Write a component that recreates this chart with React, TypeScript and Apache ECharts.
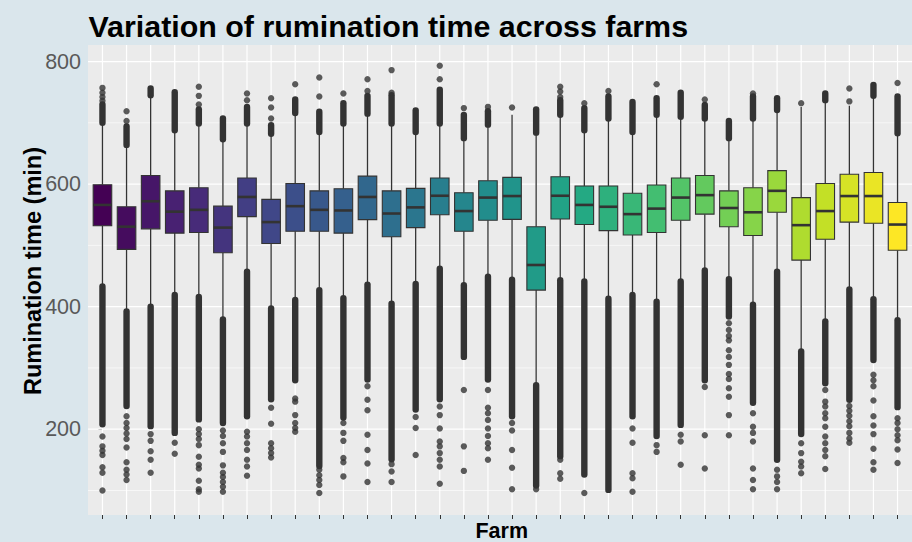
import React, { useEffect, useRef } from "react";
import * as echarts from "echarts";

// ---- data ----
const farms = ["1","2","3","4","5","6","7","8","9","10","11","12","13","14","15","16","17","18","19","20","21","22","23","24","25","26","27","28","29","30","31","32","33","34"];

const whiskerLow = [436, 394, 402, 421, 418, 381, 459, 399, 413, 429, 416, 438, 407, 440, 464, 437, 451, 446, 274, 445, 443, 415, 421, 410, 443, 461, 447, 405, 459, 329, 378, 430, 414, 380];
const q1 = [532, 493.5, 527, 520, 521, 488, 547, 503, 523, 523, 520, 542, 514, 529, 550, 523, 541, 542.5, 427, 543, 534, 524, 517, 521, 541, 551, 530.5, 516, 554, 476, 510, 538, 536, 492];
const median = [566, 530.5, 572, 555, 558, 529, 579, 538, 564, 558, 557, 579, 552, 562, 581, 556, 578, 580.5, 468, 581, 566, 563, 551, 560, 578, 582, 561, 554, 589, 533, 556, 580.5, 580.5, 534];
const q3 = [599, 563, 614, 589, 594, 564, 610, 575, 601, 589, 592.5, 613, 589, 593, 610, 586, 605.5, 611, 530.5, 612, 597, 597, 585, 598.5, 610, 614, 589, 594, 622, 578, 601, 616, 619, 570];
const whiskerHigh = [697, 662, 742, 686, 697, 671, 697, 680, 714, 683, 697, 713, 697, 683, 697, 673, 695, 713, 682, 711, 686, 705, 683, 711, 708, 705, 673, 705, 719, 726, 735, 728, 742, 681];

// dense runs of overlapping outliers: [from, to] (null = none)
const upperDense: ([number, number] | null)[] = [
  [700, 730], [664, 694], [745, 756], [688, 750], [699, 722], [673, 707], [699, 726], [682, 696], [716, 738], [685, 718],
  [699, 732], [715, 744], [699, 745], [685, 720], [699, 754], [675, 713], [697, 719], null, [684, 722], [713, 737],
  [688, 724], [707, 743], [685, 734], [713, 740], [710, 749], [707, 729], [675, 703], [707, 743], [721, 740], null,
  [737, 748], null, [744, 762], [683, 743]
];
const lowerDense: ([number, number] | null)[] = [
  [208, 433], [238, 392], [205, 400], [194, 419], [216, 416], [210, 379], [221, 457], [249, 397], [280, 411], [140, 427],
  [219, 414], [281, 436], [151, 405], [232, 437], [249, 462], [318, 435], [281, 449], [221, 444], [108, 272], [156, 443],
  [126, 441], [101, 413], [221, 419], [189, 408], [207, 441], [280, 459], [384, 445], [243, 403], [150, 457], [192, 327],
  [275, 376], [248, 428], [313, 412], [236, 378]
];

// isolated outliers
const upperOutliers: number[][] = [
  [757, 749, 742, 736], [719, 703], [], [], [759, 744, 730], [], [748, 737], [740, 725, 707], [763], [774, 743],
  [748], [771, 752], [786, 749], [], [793, 771], [724], [726], [725], [], [759, 751, 742],
  [732], [752], [], [763], [], [738], [], [748], [], [732],
  [], [756, 735], [], [765]
];
const lowerOutliers: number[][] = [
  [188, 172, 165, 158, 138, 129, 100],
  [221, 210, 202, 193, 184, 170, 146, 134, 126, 117],
  [192, 181, 164, 150, 129],
  [178, 160],
  [200, 192, 184, 174, 155, 142, 136, 116, 102, 98],
  [198, 189, 177, 163, 141, 129, 122, 114, 106, 98],
  [196, 188, 177, 166, 150, 139, 124],
  [235, 209, 177, 169, 161, 154],
  [250, 245, 223, 210, 202, 196],
  [134, 125, 117, 109, 96],
  [210, 194, 181, 153, 146, 123],
  [270, 248, 231, 191, 166, 144, 114],
  [143, 131, 114],
  [220, 202, 158],
  [237, 223, 201, 180, 172, 161, 150, 139, 111],
  [264, 172, 132],
  [264, 235, 226, 215, 201, 189, 177, 169, 150],
  [210, 198, 166, 137, 102],
  [102],
  [150, 128, 119],
  [96],
  [],
  [201, 178, 128, 120, 98],
  [174, 163],
  [191, 180, 142],
  [269, 190, 136],
  [373, 362, 352, 345, 329, 318, 305, 290, 282, 267, 253, 223, 190],
  [226, 204, 194, 180, 136, 117, 102],
  [134, 123, 114, 102],
  [177, 161, 147, 139, 128],
  [264, 245, 237, 226, 218, 204, 188, 177, 166, 156, 135],
  [238, 230, 222, 213, 205, 194, 185, 178],
  [289, 280, 270, 247, 221, 206, 192, 168, 146, 134],
  [218, 210, 200, 190, 182, 167, 145]
];

const yTicks = [200, 400, 600, 800];
const yMinor = [100, 300, 500, 700];
const Y_MIN = 60;
const Y_MAX = 827;
const X_MIN = -0.6;
const X_MAX = farms.length - 1 + 0.6;

// ---- styles ----
const FONT = '"Liberation Sans", Arial, Helvetica, sans-serif';
const VIRIDIS = ["#440154", "#482475", "#414487", "#355f8d", "#2a788e", "#21918c", "#22a884", "#44bf70", "#7ad151", "#bddf26", "#fde725"];
function hexToRgb(h: string) {
  const n = parseInt(h.slice(1), 16);
  return [(n >> 16) & 255, (n >> 8) & 255, n & 255];
}
function viridis(t: number) {
  const s = t * (VIRIDIS.length - 1);
  const i = Math.min(Math.floor(s), VIRIDIS.length - 2);
  const f = s - i;
  const a = hexToRgb(VIRIDIS[i]);
  const b = hexToRgb(VIRIDIS[i + 1]);
  const c = a.map((v, k) => Math.round(v + (b[k] - v) * f));
  return `rgb(${c[0]},${c[1]},${c[2]})`;
}
const palette = farms.map((_, i) => viridis(i / (farms.length - 1)));
const INK = "#333333";

export default function App() {
  const ref = useRef<HTMLDivElement>(null);
  useEffect(() => {
    document.body.style.margin = "0";
    if (!ref.current) return;
    const chart = echarts.init(ref.current, undefined, { renderer: "svg" });

    const idx = farms.map((_, i) => i);
    const boxData = idx.map((i) => [i, whiskerLow[i], q1[i], median[i], q3[i], whiskerHigh[i]]);
    const denseData: number[][] = [];
    idx.forEach((i) => {
      const u = upperDense[i];
      const l = lowerDense[i];
      if (u) denseData.push([i, u[0], u[1]]);
      if (l) denseData.push([i, l[0], l[1]]);
    });
    const pointData: number[][] = [];
    idx.forEach((i) => {
      upperOutliers[i].forEach((v) => pointData.push([i, v]));
      lowerOutliers[i].forEach((v) => pointData.push([i, v]));
    });

    const option: any = {
      animation: false,
      backgroundColor: "#DAE6EC",
      textStyle: { fontFamily: FONT },
      grid: { left: 88, top: 45, width: 827, height: 470, show: true, backgroundColor: "#EBEBEB", borderWidth: 0 },
      xAxis: {
        type: "value",
        min: X_MIN,
        max: X_MAX,
        axisLine: { show: false },
        axisLabel: { show: false },
        splitLine: { show: false },
        axisTick: { show: true, customValues: idx, length: 4, lineStyle: { color: INK, width: 1 } },
      },
      yAxis: {
        type: "value",
        min: Y_MIN,
        max: Y_MAX,
        axisLine: { show: false },
        splitLine: { show: false },
        axisTick: { show: true, customValues: yTicks, length: 4, lineStyle: { color: INK, width: 1 } },
        axisLabel: { customValues: yTicks, margin: 7, fontSize: 21.5, color: "#595959", fontFamily: FONT },
      },
      graphic: [
        {
          type: "text",
          x: 88.5,
          y: 25.5,
          style: { text: "Variation of rumination time across farms", fill: "#000", font: `bold 30.4px ${FONT}`, align: "left", verticalAlign: "middle" },
        },
        {
          type: "text",
          x: 32.5,
          y: 271,
          rotation: Math.PI / 2,
          style: { text: "Rumination time (min)", fill: "#000", font: `bold 23.5px ${FONT}`, align: "center", verticalAlign: "middle" },
        },
        {
          type: "text",
          x: 501.7,
          y: 530.6,
          style: { text: "Farm", fill: "#000", font: `bold 21.5px ${FONT}`, align: "center", verticalAlign: "middle" },
        },
      ],
      series: [
        {
          type: "custom",
          name: "gridMinor",
          silent: true,
          z: 1,
          data: yMinor.map((v) => [0, v]),
          renderItem: (p: any, api: any) => {
            const a = api.coord([X_MIN, api.value(1)]);
            const b = api.coord([X_MAX, api.value(1)]);
            return { type: "line", shape: { x1: a[0], y1: a[1], x2: b[0], y2: b[1] }, style: { stroke: "#ffffff", lineWidth: 0.6 } };
          },
        },
        {
          type: "custom",
          name: "gridMajorY",
          silent: true,
          z: 1,
          data: yTicks.map((v) => [0, v]),
          renderItem: (p: any, api: any) => {
            const a = api.coord([X_MIN, api.value(1)]);
            const b = api.coord([X_MAX, api.value(1)]);
            return { type: "line", shape: { x1: a[0], y1: a[1], x2: b[0], y2: b[1] }, style: { stroke: "#ffffff", lineWidth: 1.2 } };
          },
        },
        {
          type: "custom",
          name: "gridMajorX",
          silent: true,
          z: 1,
          data: idx.map((i) => [i, Y_MIN]),
          renderItem: (p: any, api: any) => {
            const a = api.coord([api.value(0), Y_MIN]);
            const b = api.coord([api.value(0), Y_MAX]);
            return { type: "line", shape: { x1: a[0], y1: a[1], x2: b[0], y2: b[1] }, style: { stroke: "#ffffff", lineWidth: 1.2 } };
          },
        },
        {
          type: "custom",
          name: "boxes",
          silent: true,
          z: 3,
          data: boxData,
          renderItem: (p: any, api: any) => {
            const x = api.value(0);
            const lo = api.coord([x, api.value(1)]);
            const b1 = api.coord([x, api.value(2)]);
            const md = api.coord([x, api.value(3)]);
            const b3 = api.coord([x, api.value(4)]);
            const hi = api.coord([x, api.value(5)]);
            const hw = api.size([1, 0])[0] * 0.385;
            const cx = lo[0];
            return {
              type: "group",
              children: [
                { type: "line", shape: { x1: cx, y1: hi[1], x2: cx, y2: b3[1] }, style: { stroke: INK, lineWidth: 1.3 } },
                { type: "line", shape: { x1: cx, y1: b1[1], x2: cx, y2: lo[1] }, style: { stroke: INK, lineWidth: 1.3 } },
                {
                  type: "rect",
                  shape: { x: cx - hw, y: b3[1], width: hw * 2, height: b1[1] - b3[1] },
                  style: { fill: palette[x], stroke: INK, lineWidth: 1.1 },
                },
                { type: "line", shape: { x1: cx - hw, y1: md[1], x2: cx + hw, y2: md[1] }, style: { stroke: INK, lineWidth: 2.6 } },
              ],
            };
          },
        },
        {
          type: "custom",
          name: "denseOutliers",
          silent: true,
          z: 4,
          data: denseData,
          renderItem: (p: any, api: any) => {
            const a = api.coord([api.value(0), api.value(1)]);
            const b = api.coord([api.value(0), api.value(2)]);
            return { type: "line", shape: { x1: a[0], y1: a[1], x2: b[0], y2: b[1] }, style: { stroke: INK, lineWidth: 6.4, lineCap: "round" } };
          },
        },
        {
          type: "scatter",
          name: "outliers",
          silent: true,
          z: 4,
          symbol: "circle",
          symbolSize: 6.4,
          itemStyle: { color: INK },
          data: pointData,
        },
      ],
    };
    chart.setOption(option);
    return () => chart.dispose();
  }, []);
  return <div ref={ref} style={{ width: 912, height: 542 }} />;
}
